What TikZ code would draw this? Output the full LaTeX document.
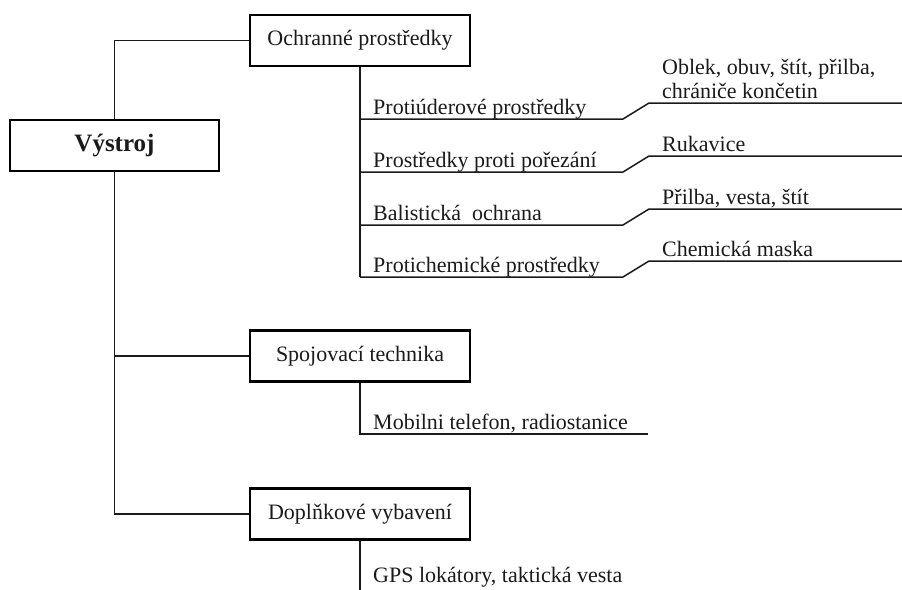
\documentclass[tikz,border=0pt]{standalone}
\usepackage{fontspec}
\setmainfont{Liberation Serif}
\usetikzlibrary{positioning,calc}
\definecolor{ink}{HTML}{1a1a1a}
\tikzset{
  link/.style={line width=1.5pt,draw=ink},
  catbox/.style={draw=black,line width=2.8pt,fill=white,minimum width=220pt,minimum height=51pt,
    inner sep=0pt,text=ink,font=\fontsize{22}{26}\selectfont},
  rootbox/.style={catbox,minimum width=209pt,font=\fontsize{25}{29}\selectfont\bfseries},
  leaf/.style={anchor=base west,inner sep=0pt,text=ink,font=\fontsize{22}{26}\selectfont},
}

\begin{document}
\begin{tikzpicture}[x=1pt,y=-1pt]
\useasboundingbox (0,0) rectangle (902,589);
% main branches
\node[rootbox] (vystroj) at (114.5,145.5) {Výstroj};
\node[catbox] (ochrana) at (360,40.5) {Ochranné prostředky};
\node[catbox] (spojeni) at (360,356) {Spojovací technika};
\node[catbox] (doplnky) at (360,514) {Doplňkové vybavení};
\draw[link] (vystroj.north) |- (ochrana.west);
\draw[link] (vystroj.south) |- (spojeni.west);
\draw[link] (vystroj.south) |- (doplnky.west);
% ochranne prostredky
\coordinate (ochrana-end) at (360,277);
\draw[link] (ochrana.south) -- (ochrana-end);
\foreach \y/\name/\lt/\rt in {119/uder/{Protiúderové prostředky}/{chrániče končetin},
    172/rez/{Prostředky proti pořezání}/{Rukavice},
    225/bal/{Balistická\ \ ochrana}/{Přilba, vesta, štít},
    277/chem/{Protichemické prostředky}/{Chemická maska}}{
  \coordinate (\name-a) at (360,\y);
  \coordinate (\name-b) at (623,\y);
  \coordinate (\name-c) at (649,\y-16);
  \coordinate (\name-d) at (902,\y-16);
  \draw[link] (\name-a) -- (\name-b) -- (\name-c) -- (\name-d);
  \node[leaf] (\name-l) at ($(\name-a)+(13,-5)$) {\lt};
  \node[leaf] (\name-r) at ($(\name-c)+(13,-5)$) {\rt};
}
\node[leaf] (uder-r0) at ($(uder-r.base west)+(0,-24)$) {Oblek, obuv, štít, přilba,};
% spojovaci technika
\coordinate (mob-a) at (360,434);
\coordinate (mob-b) at (648,434);
\draw[link] (spojeni.south) -- (mob-a) -- (mob-b);
\node[leaf] (mob-l) at ($(mob-a)+(13,-5)$) {Mobilni telefon, radiostanice};
% doplnkove vybaveni
\coordinate (gps-a) at (360,592);
\draw[link] (doplnky.south) -- (gps-a);
\node[leaf] (gps-l) at (373,582) {GPS lokátory, taktická vesta};
\end{tikzpicture}
\end{document}
